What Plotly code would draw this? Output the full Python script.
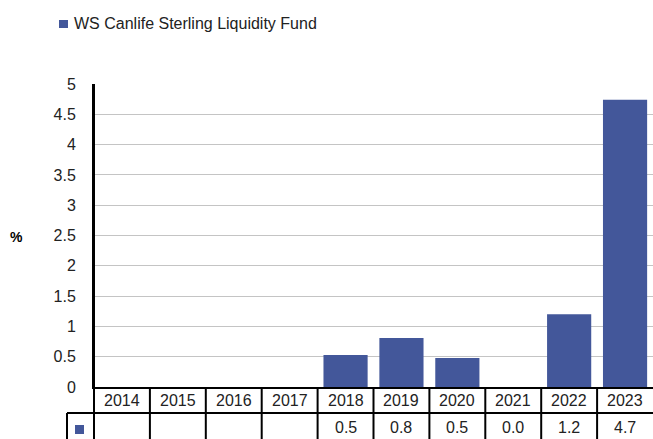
import plotly.graph_objects as go

# ---- data ----
YEARS = ["2014", "2015", "2016", "2017", "2018", "2019", "2020", "2021", "2022", "2023"]
RETURNS = [None, None, None, None, 0.53, 0.81, 0.48, 0.0, 1.2, 4.74]
SERIES_NAME = "WS Canlife Sterling Liquidity Fund"
Y_TICKS = [0, 0.5, 1, 1.5, 2, 2.5, 3, 3.5, 4, 4.5, 5]

# ---- style ----
W, H = 653, 439
ML, MR, MT, MB = 94, 0, 84, 52
BAR_COLOR = "#43579A"
FONT = "Liberation Sans, Arial, sans-serif"
TXT = "#222222"
PW = W - ML - MR
PH = H - MT - MB


def px_y(p):
    """pixel row -> paper y"""
    return (H - MB - p) / PH


def px_x(p):
    """pixel column -> paper x"""
    return (p - ML) / PW


fig = go.Figure()
fig.add_trace(go.Bar(
    x=YEARS, y=RETURNS, name=SERIES_NAME,
    marker=dict(color=BAR_COLOR, line=dict(width=0)),
    showlegend=False,
))

shapes = []
annotations = []
line = dict(color="black", width=2)

# table geometry (pixel rows)
HEAD_TOP, HEAD_BOT, DATA_BOT = 387, 413, 439
n = len(YEARS)

# vertical separators between categories (header + data rows)
for i in range(n):
    xb = i - 0.5
    shapes.append(dict(type="line", xref="x", yref="paper", x0=xb, x1=xb,
                       y0=px_y(HEAD_TOP), y1=px_y(DATA_BOT), line=line))
# left axis line through the table
shapes.append(dict(type="line", xref="paper", yref="paper", x0=0, x1=0,
                   y0=1, y1=px_y(DATA_BOT), line=line))
# header bottom / data row top border
shapes.append(dict(type="line", xref="paper", yref="paper", x0=px_x(67), x1=1,
                   y0=px_y(HEAD_BOT), y1=px_y(HEAD_BOT), line=line))
# data row left border
shapes.append(dict(type="line", xref="paper", yref="paper", x0=px_x(67), x1=px_x(67),
                   y0=px_y(HEAD_BOT), y1=px_y(DATA_BOT), line=line))
# series key square in data row
shapes.append(dict(type="rect", xref="paper", yref="paper", x0=px_x(75), x1=px_x(84),
                   y0=px_y(434), y1=px_y(425), fillcolor=BAR_COLOR, line=dict(width=0)))

# header labels and values (category serial numbers on the x axis)
for i, (yr, v) in enumerate(zip(YEARS, RETURNS)):
    annotations.append(dict(x=i, xref="x", y=px_y((HEAD_TOP + HEAD_BOT) / 2 + 1), yref="paper",
                            text=yr, showarrow=False, xanchor="center", yanchor="middle",
                            font=dict(family=FONT, size=16, color=TXT)))
    if v is not None:
        annotations.append(dict(x=i, xref="x", y=px_y(427.5), yref="paper",
                                text=f"{v:.1f}", showarrow=False, xanchor="center", yanchor="middle",
                                font=dict(family=FONT, size=16, color=TXT)))

# legend (manual)
shapes.append(dict(type="rect", xref="paper", yref="paper", x0=px_x(59), x1=px_x(68),
                   y0=px_y(28), y1=px_y(20), fillcolor=BAR_COLOR, line=dict(width=0)))
annotations.append(dict(x=px_x(72), xref="paper", y=px_y(23.5), yref="paper", text=SERIES_NAME,
                        showarrow=False, xanchor="left", yanchor="middle",
                        font=dict(family=FONT, size=16, color=TXT)))
# y axis title
annotations.append(dict(x=px_x(16), xref="paper", y=px_y(237), yref="paper", text="<b>%</b>",
                        showarrow=False, xanchor="center", yanchor="middle",
                        font=dict(family=FONT, size=14, color="black")))

fig.update_layout(
    width=W, height=H,
    margin=dict(l=ML, r=MR, t=MT, b=MB, pad=0),
    plot_bgcolor="white", paper_bgcolor="white",
    bargap=0.21,
    shapes=shapes, annotations=annotations,
    font=dict(family=FONT, color=TXT),
    xaxis=dict(type="category", range=[-0.5, n - 0.5], showticklabels=False, ticks="",
               showgrid=False, zeroline=False, showline=True, linecolor="black", linewidth=2,
               fixedrange=True),
    yaxis=dict(range=[0, 5], tickvals=Y_TICKS, showgrid=True, gridcolor="#c4c4c4", gridwidth=1,
               zeroline=False, showline=True, linecolor="black", linewidth=2,
               ticks="outside", ticklen=13, tickcolor="rgba(0,0,0,0)",
               tickfont=dict(family=FONT, size=16, color=TXT), fixedrange=True),
)

fig.write_html("out.html", post_script="document.body.style.margin='0';",
               config={"displayModeBar": False})
